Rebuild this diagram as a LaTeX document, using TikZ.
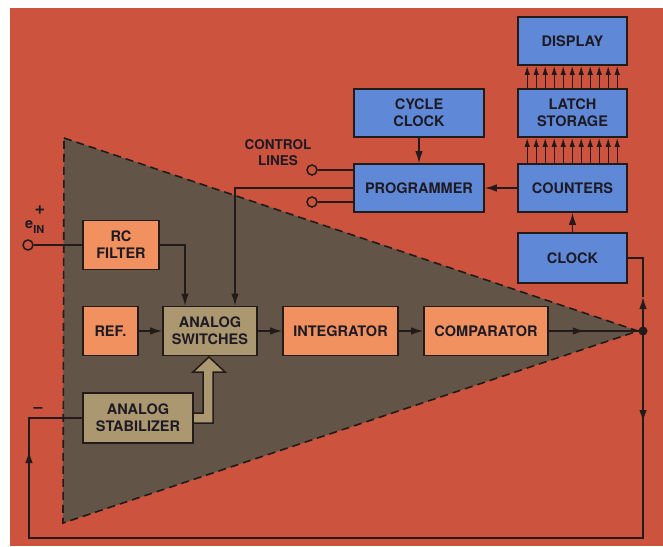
\documentclass[tikz,border=0pt]{standalone}
\usepackage{fontspec}
\setmainfont{TeX Gyre Heros}
\usepackage{tikz}
\usetikzlibrary{arrows.meta,positioning,calc,decorations.markings}

\definecolor{bgred}{HTML}{CC533E}
\definecolor{tri}{HTML}{625446}
\definecolor{boxorange}{HTML}{F0915F}
\definecolor{boxblue}{HTML}{5F88D6}
\definecolor{khaki}{HTML}{AC9870}
\definecolor{linedark}{HTML}{231B1A}
\definecolor{textdark}{HTML}{1E1A24}

\begin{document}
\begin{tikzpicture}[x=1pt, y=-1pt,
  >={Latex[length=12pt,width=7.5pt]},
  every node/.style={font=\fontsize{14.5}{17}\selectfont\bfseries, align=center, text=textdark},
  box/.style={draw=linedark, line width=1.6pt, inner sep=2pt},
  bluebox/.style={box, fill=boxblue, minimum width=109pt, minimum height=48pt},
  orangebox/.style={box, fill=boxorange, minimum height=49pt},
  khakibox/.style={box, fill=khaki, minimum height=49pt},
  wire/.style={draw=linedark, line width=1.5pt},
  port/.style={circle, draw=linedark, line width=1.5pt, fill=bgred, minimum size=10pt, inner sep=0pt},
  midarrow/.style={postaction={decorate, decoration={markings, mark=at position #1 with {\arrow{>}}}}},
  ]
  % paper and red field
  \fill[white] (0,0) rectangle (663,546);
  \fill[bgred] (10,8) rectangle (663,546);
  \useasboundingbox (0,0) rectangle (663,546);

  % the dashed wedge
  \filldraw[fill=tri, draw=linedark, line width=1.6pt, dash pattern=on 8pt off 5pt]
    (64,138) -- (638,331) -- (63,523) -- cycle;

  % fat arrow from the stabilizer (under the boxes)
  \filldraw[fill=khaki, draw=linedark, line width=1.5pt]
    (185,413) -- (203,413) -- (203,372) -- (193,372) -- (209,357)
    -- (225,372) -- (213,372) -- (213,423) -- (185,423) -- cycle;

  % digital side
  \node[bluebox] (display) at (572.5,41)  {DISPLAY};
  \node[bluebox] (latch)   at (572.5,113) {LATCH\\STORAGE};
  \node[bluebox] (counters) at (572.5,188) {COUNTERS};
  \node[bluebox, minimum height=50pt] (clock) at (572.5,258) {CLOCK};
  \node[bluebox, minimum width=130pt] (cyc)  at (419,113) {CYCLE\\CLOCK};
  \node[bluebox, minimum width=130pt] (prog) at (419,188) {PROGRAMMER};

  % analog side
  \node[orangebox, minimum width=76pt]  (rcf)   at (121,245)   {RC\\FILTER};
  \node[orangebox, minimum width=55pt]  (ref)   at (110.5,331) {REF.};
  \node[khakibox,  minimum width=94pt]  (sw)    at (210,331)   {ANALOG\\SWITCHES};
  \node[orangebox, minimum width=115pt] (integ) at (340.5,331) {INTEGRATOR};
  \node[orangebox, minimum width=124pt] (comp)  at (486,331)   {COMPARATOR};
  \node[khakibox,  minimum width=110pt, minimum height=50pt] (stab) at (138,418) {ANALOG\\STABILIZER};

  % terminals and labels
  \node[port] (ein) at (28,245) {};
  \node[port] (cl1) at (312,170) {};
  \node[port] (cl2) at (312,202) {};
  \node[anchor=base west, inner sep=0pt] (einlbl) at (25,228) {e\raisebox{-5pt}{\fontsize{11}{11}\selectfont IN}};
  \node[font=\fontsize{18}{18}\selectfont\bfseries, inner sep=0pt] (plus) at (40,210) {+};
  \node[font=\fontsize{16}{16}\selectfont\bfseries, inner sep=0pt] (minus) at (38,410) {--};
  \node[font=\fontsize{13.5}{16}\selectfont\bfseries] (ctl) at (278,153) {CONTROL\\LINES};
  \coordinate (dot) at (643,331);
  \coordinate (clk) at (643,258);
  \coordinate (clkarr) at (643,297);
  \coordinate (fbr) at (643,538);
  \coordinate (fbl) at (29,538);

  % buses
  \foreach \i in {0,...,10} {
    \draw[wire, line width=1.4pt, -{Latex[length=9pt,width=5.5pt]}] ([xshift=10pt+9*\i pt]counters.north west) -- ([xshift=10pt+9*\i pt]latch.south west);
    \draw[wire, line width=1.4pt, -{Latex[length=9pt,width=5.5pt]}] ([xshift=10pt+9*\i pt]latch.north west) -- ([xshift=10pt+9*\i pt]display.south west);
  }

  % connectors
  \draw[wire, ->] (counters.west) -- (prog.east);
  \draw[wire, ->] (cyc.south) -- (prog.north);
  \draw[wire, ->] (clock.north) -- (counters.south);
  \draw[wire] (cl1) -- (cl1 -| prog.west);
  \draw[wire] (cl2) -- (cl2 -| prog.west);
  \draw[wire, ->] (prog.west) -| ([xshift=25pt]sw.north);
  \draw[wire] (ein) -- (rcf.west);
  \draw[wire, ->] (rcf.east) -| ([xshift=-25pt]sw.north);
  \draw[wire, ->] (ref.east) -- (sw.west);
  \draw[wire, ->] (sw.east) -- (integ.west);
  \draw[wire, ->] (integ.east) -- (comp.west);
  \draw[wire, midarrow=36pt] (comp.east) -- (dot);
  \draw[wire, ->] (dot) -- (clkarr);
  \draw[wire] (clkarr) -- (clk) -- (clock.east);
  \draw[wire, postaction={decorate, decoration={markings,
      mark=at position 91pt with {\arrow{>}},
      mark=at position 908pt with {\arrow{>}}}}]
    (dot) -- (fbr) -- (fbl) |- (stab.west);
  \fill[linedark] (dot) circle[radius=4.5pt];
\end{tikzpicture}
\end{document}
